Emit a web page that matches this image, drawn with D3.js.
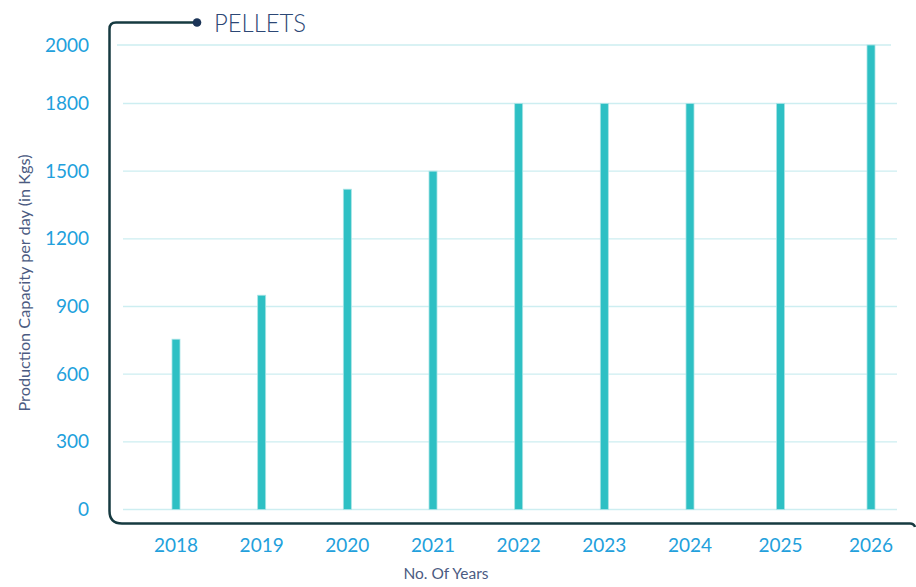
<!DOCTYPE html>
<html>
<head>
<meta charset="utf-8">
<script src="https://cdn.jsdelivr.net/npm/d3@7"></script>
<style>
html,body{margin:0;padding:0;background:#fff;}
svg{display:block;}
</style>
</head>
<body>
<svg id="chart" width="916" height="587"></svg>
<script>
const title = "PELLETS";
const years = ["2018","2019","2020","2021","2022","2023","2024","2025","2026"];
const capacity = [755, 950, 1420, 1500, 1800, 1800, 1800, 1800, 2000];
const yTicks = [0, 300, 600, 900, 1200, 1500, 1800, 2000];
const yTitle = "Production Capacity per day (in Kgs)";
const xTitle = "No. Of Years";

const svg = d3.select("#chart");
const font = "Lato, 'Noto Sans', sans-serif";

// y: evenly spaced ticks up to 1800, 2000 drawn closer as in the source
const y = d3.scaleLinear().domain([0, 1800, 2000]).range([509.5, 103.5, 45]);
// x: category positions (last two slightly wider spaced as in the source)
const xi = d3.scaleLinear().domain([0, 6, 8]).range([176, 690, 871]);
const x = d => xi(years.indexOf(d));

// gridlines
svg.append("g").selectAll("line").data(yTicks).join("line")
  .attr("x1", d => d === 2000 ? 117 : 123)
  .attr("x2", d => d === 2000 ? 891 : 897)
  .attr("y1", d => y(d)).attr("y2", d => y(d))
  .attr("stroke", "#cdeef1").attr("stroke-width", 1.3);

// y tick labels
svg.append("g").selectAll("text").data(yTicks).join("text")
  .attr("x", 89).attr("y", d => y(d)).attr("dy", "0.35em")
  .attr("text-anchor", "end")
  .attr("font-family", font).attr("font-size", 19)
  .attr("fill", "#22a0dc")
  .text(d => d);

// bars
const bw = 8;
svg.append("g").selectAll("rect").data(years).join("rect")
  .attr("x", d => x(d) - bw / 2)
  .attr("width", bw)
  .attr("y", (d, i) => y(capacity[i]))
  .attr("height", (d, i) => y(0) - y(capacity[i]))
  .attr("fill", "#2ec0c4")
  .attr("stroke", "#a9e4e6").attr("stroke-width", 0.8);

// x labels
svg.append("g").selectAll("text").data(years).join("text")
  .attr("x", d => x(d)).attr("y", 552)
  .attr("text-anchor", "middle")
  .attr("font-family", font).attr("font-size", 19)
  .attr("fill", "#22a0dc")
  .text(d => d);

// frame
const path = d3.path();
path.moveTo(197, 22.5);
path.lineTo(116, 22.5);
path.quadraticCurveTo(109.5, 22.5, 109.5, 29);
path.lineTo(109.5, 511);
path.quadraticCurveTo(109.5, 523.5, 122, 523.5);
path.lineTo(910, 523.5);
path.quadraticCurveTo(914, 523.5, 915, 527);
svg.append("path").attr("d", path.toString())
  .attr("fill", "none").attr("stroke", "#163a40").attr("stroke-width", 2.5);
svg.append("circle").attr("cx", 197).attr("cy", 22.5).attr("r", 4.3).attr("fill", "#1c3558");

// title
svg.append("text").attr("x", 214).attr("y", 32)
  .attr("font-family", font).attr("font-size", 25).attr("font-weight", 300)
  .attr("textLength", 92).attr("lengthAdjust", "spacingAndGlyphs")
  .attr("fill", "#2c4775")
  .text(title);

// axis titles
svg.append("text")
  .attr("transform", "translate(29.5,283) rotate(-90)")
  .attr("text-anchor", "middle")
  .attr("font-family", font).attr("font-size", 14.5)
  .attr("textLength", 257).attr("lengthAdjust", "spacingAndGlyphs")
  .attr("fill", "#4b5b82")
  .text(yTitle);
svg.append("text").attr("x", 446).attr("y", 579)
  .attr("text-anchor", "middle")
  .attr("font-family", font).attr("font-size", 14.5)
  .attr("textLength", 85).attr("lengthAdjust", "spacingAndGlyphs")
  .attr("fill", "#4b5b82")
  .text(xTitle);
</script>
</body>
</html>
